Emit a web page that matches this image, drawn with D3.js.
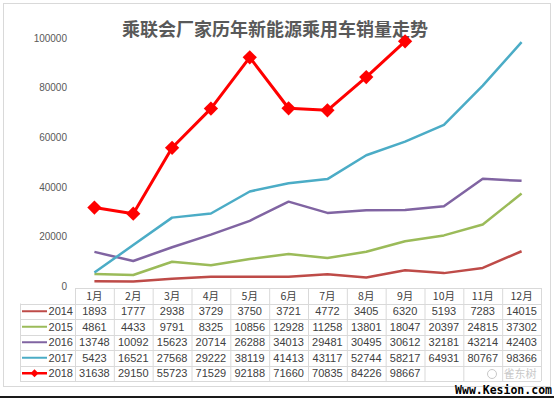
<!DOCTYPE html>
<html>
<head>
<meta charset="utf-8">
<script src="https://cdn.jsdelivr.net/npm/d3@7"></script>
<style>
  body { margin: 0; background: #fff; }
  text { font-family: "Liberation Sans", Arial, sans-serif; }
</style>
</head>
<body>
<div id="chart"></div>
<script>
const months = ["1月", "2月", "3月", "4月", "5月", "6月", "7月", "8月", "9月", "10月", "11月", "12月"];
const years = ["2014", "2015", "2016", "2017", "2018"];
const s2014 = [1893, 1777, 2938, 3729, 3750, 3721, 4772, 3405, 6320, 5193, 7283, 14015];
const s2015 = [4861, 4433, 9791, 8325, 10856, 12928, 11258, 13801, 18047, 20397, 24815, 37302];
const s2016 = [13748, 10092, 15623, 20714, 26288, 34013, 29481, 30495, 30612, 32181, 43214, 42403];
const s2017 = [5423, 16521, 27568, 29222, 38119, 41413, 43117, 52744, 58217, 64931, 80767, 98366];
const s2018 = [31638, 29150, 55723, 71529, 92188, 71660, 70835, 84226, 98667];
const colors = ["#be4b48", "#9bbb59", "#8064a2", "#4bacc6", "#ff0000"];
const yTicks = [0, 20000, 40000, 60000, 80000, 100000];
const title = "乘联会厂家历年新能源乘用车销量走势";

const series = [s2014, s2015, s2016, s2017, s2018];

const width = 554, height = 398;
const svg = d3.select("#chart").append("svg")
  .attr("width", width).attr("height", height);

// outer chart frame
svg.append("rect")
  .attr("x", 3.5).attr("y", 3.5)
  .attr("width", 547).attr("height", 383)
  .attr("fill", "#fff").attr("stroke", "#d9d9d9");

// dark edge at the bottom of the picture
svg.append("rect")
  .attr("x", 0).attr("y", 396)
  .attr("width", width).attr("height", 2)
  .attr("fill", "#1a1a1a");

svg.append("text")
  .attr("x", 275).attr("y", 36)
  .attr("text-anchor", "middle")
  .attr("fill", "#595959")
  .style("font-family", "'Noto Sans CJK SC', sans-serif")
  .style("font-size", "18px")
  .style("font-weight", "bold")
  .text(title);

const x = d3.scaleBand().domain(months).range([75, 541]);
const y = d3.scaleLinear().domain([0, 100000]).range([286, 38]);

// y axis labels
const yAxis = svg.append("g")
  .attr("transform", "translate(67,0)")
  .call(d3.axisLeft(y).tickValues(yTicks).tickSize(0).tickPadding(0).tickFormat(d3.format("d")));
yAxis.select(".domain").remove();
yAxis.selectAll("text")
  .attr("fill", "#595959")
  .style("font-size", "10px");

// data table
const rowH = 15.5;
const tableTop = 288;
const tbl = svg.append("g");
const gridColor = "#d9d9d9";
const rowsBottom = tableTop + rowH * (years.length + 1);

// vertical lines
months.forEach((m, i) => {
  tbl.append("line")
    .attr("x1", x(m) + 0.5).attr("x2", x(m) + 0.5)
    .attr("y1", tableTop).attr("y2", rowsBottom)
    .attr("stroke", gridColor);
});
tbl.append("line")
  .attr("x1", 541.5).attr("x2", 541.5)
  .attr("y1", tableTop).attr("y2", rowsBottom)
  .attr("stroke", gridColor);
tbl.append("line")
  .attr("x1", 20.5).attr("x2", 20.5)
  .attr("y1", tableTop + rowH).attr("y2", rowsBottom)
  .attr("stroke", gridColor);

// horizontal lines
d3.range(years.length + 2).forEach(i => {
  const yy = Math.round(tableTop + i * rowH) + 0.5;
  tbl.append("line")
    .attr("x1", i === 0 ? 75 : 20).attr("x2", 541)
    .attr("y1", yy).attr("y2", yy)
    .attr("stroke", gridColor);
});

// header
tbl.selectAll("text.month")
  .data(months)
  .join("text")
  .attr("x", d => x(d) + x.bandwidth() / 2)
  .attr("y", tableTop + rowH / 2 + 4)
  .attr("text-anchor", "middle")
  .attr("fill", "#404040")
  .style("font-family", "'Noto Sans CJK SC', sans-serif")
  .style("font-size", "10.5px")
  .text(d => d);

years.forEach((yr, r) => {
  const cy = tableTop + rowH * (r + 1) + rowH / 2;
  tbl.append("line")
    .attr("x1", 22).attr("x2", 47)
    .attr("y1", cy).attr("y2", cy)
    .attr("stroke", colors[r])
    .attr("stroke-width", r === 4 ? 2.5 : 2);
  if (r === 4) {
    tbl.append("path")
      .attr("d", d3.symbol(d3.symbolDiamond2, 40)())
      .attr("transform", `translate(34.5,${cy})`)
      .attr("fill", colors[r]);
  }
  tbl.append("text")
    .attr("x", 73).attr("y", cy + 4)
    .attr("text-anchor", "end")
    .attr("fill", "#404040")
    .style("font-size", "11px")
    .text(yr);
  series[r].forEach((v, i) => {
    tbl.append("text")
      .attr("x", x(months[i]) + x.bandwidth() / 2)
      .attr("y", cy + 4)
      .attr("text-anchor", "middle")
      .attr("fill", "#404040")
      .style("font-size", "11px")
      .text(v);
  });
});

// lines
const line = d3.line()
  .x((d, i) => x(months[i]) + x.bandwidth() / 2)
  .y(d => y(d));

series.forEach((s, r) => {
  svg.append("path")
    .datum(s)
    .attr("d", line)
    .attr("fill", "none")
    .attr("stroke", colors[r])
    .attr("stroke-width", r === 4 ? 3 : 2.5)
    .attr("stroke-linejoin", "round");
});

svg.selectAll("path.marker")
  .data(s2018)
  .join("path")
  .attr("class", "marker")
  .attr("d", d3.symbol(d3.symbolDiamond2, 130)())
  .attr("transform", (d, i) => `translate(${x(months[i]) + x.bandwidth() / 2},${y(d)})`)
  .attr("fill", colors[4]);

// watermarks
svg.append("text")
  .attr("x", 520).attr("y", 378)
  .attr("text-anchor", "middle")
  .attr("fill", "#c8c8c8")
  .style("font-family", "'Noto Sans CJK SC', sans-serif")
  .style("font-size", "11px")
  .text("雀东树");
svg.append("circle")
  .attr("cx", 492).attr("cy", 374).attr("r", 4.5)
  .attr("fill", "none").attr("stroke", "#c8c8c8");

svg.append("text")
  .attr("x", 552).attr("y", 394)
  .attr("text-anchor", "end")
  .attr("fill", "#000")
  .style("font-family", "'DejaVu Sans Mono', monospace")
  .style("font-size", "11.5px")
  .style("font-weight", "bold")
  .text("Www.Kesion.com");
</script>
</body>
</html>
